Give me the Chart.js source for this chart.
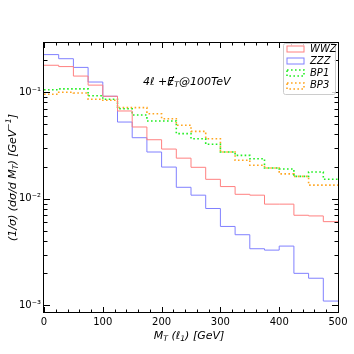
<!DOCTYPE html>
<html>
<head>
<meta charset="utf-8">
<script src="https://cdn.jsdelivr.net/npm/chart.js@4.4.0/dist/chart.umd.min.js"></script>
<style>
    html, body { margin: 0; padding: 0; background: #fff; }
    #chart { display: block; }
</style>
</head>
<body>
<canvas id="chart" width="354" height="354"></canvas>
<script>
"use strict";

// bin edges in GeV (25 GeV bins)
var binEdges = [0, 25, 50, 75, 100, 125, 150, 175, 200, 225, 250, 275, 300, 325, 350, 375, 400, 425, 450, 475, 500];

// normalised distributions, one value per bin
var wwz = [0.178, 0.173, 0.141, 0.116, 0.0912, 0.0664, 0.0470, 0.0357, 0.0292, 0.0240, 0.0197, 0.0152, 0.0130, 0.0110, 0.0108, 0.0089, 0.0089, 0.0070, 0.0069, 0.0061];
var zzz = [0.224, 0.205, 0.170, 0.124, 0.0912, 0.0523, 0.0373, 0.0274, 0.0198, 0.0128, 0.0108, 0.0081, 0.0055, 0.0046, 0.0034, 0.0033, 0.0036, 0.0020, 0.0018, 0.0011];
var bp1 = [0.105, 0.107, 0.107, 0.0923, 0.0855, 0.0697, 0.0608, 0.0535, 0.0535, 0.0407, 0.0365, 0.0324, 0.0274, 0.0255, 0.0237, 0.0194, 0.0190, 0.0162, 0.0178, 0.0152];
var bp3 = [0.0952, 0.0994, 0.0979, 0.0855, 0.0836, 0.0713, 0.0713, 0.0626, 0.0562, 0.0488, 0.0428, 0.0365, 0.0274, 0.0229, 0.0206, 0.0194, 0.0171, 0.0162, 0.0134, 0.0134];

var seriesNames = ["WWZ", "ZZZ", "BP1", "BP3"];
var xTickLabels = [0, 100, 200, 300, 400, 500];
var yTickLabels = { "-1": "10\u207B\u00B9", "-2": "10\u207B\u00B2", "-3": "10\u207B\u00B3" };

var FONT = "'DejaVu Sans', sans-serif";

// histogram as step line: left edge of every bin + closing right edge
function stepPoints(vals) {
    var pts = vals.map(function (v, i) { return { x: binEdges[i], y: v }; });
    pts.push({ x: binEdges[vals.length], y: vals[vals.length - 1] });
    return pts;
}

// draws text made of pieces: [text, "sub"|"sup"|""]
function richWidth(ctx, segs, size) {
    var w = 0;
    segs.forEach(function (s) {
        ctx.font = "italic " + (s[1] ? size * 0.7 : size) + "px " + FONT;
        w += ctx.measureText(s[0]).width;
    });
    return w;
}
function drawRich(ctx, segs, x, y, size, center) {
    var cx = center ? x - richWidth(ctx, segs, size) / 2 : x;
    ctx.textBaseline = "alphabetic";
    ctx.textAlign = "left";
    segs.forEach(function (s) {
        var fs = s[1] ? size * 0.7 : size;
        var dy = s[1] === "sub" ? size * 0.22 : (s[1] === "sup" ? -size * 0.42 : 0);
        ctx.font = "italic " + fs + "px " + FONT;
        ctx.fillText(s[0], cx, y + dy);
        if (s[2] === "slash") {
            var w = ctx.measureText(s[0]).width;
            ctx.save();
            ctx.lineWidth = 1;
            ctx.beginPath();
            ctx.moveTo(cx + w * 0.2, y + 1);
            ctx.lineTo(cx + w * 0.95, y - size * 0.82);
            ctx.stroke();
            ctx.restore();
        }
        cx += ctx.measureText(s[0]).width;
    });
}

var decorations = {
    id: "decorations",
    afterDraw: function (chart) {
        var ctx = chart.ctx;
        var a = chart.chartArea;
        var xs = chart.scales.x, ys = chart.scales.y;
        ctx.save();
        ctx.strokeStyle = "#000";
        ctx.fillStyle = "#000";
        ctx.lineWidth = 1;

        // frame
        ctx.strokeRect(Math.round(a.left) - 0.5, Math.round(a.top) + 0.5,
            Math.round(a.right - a.left) + 1, Math.round(a.bottom - a.top) - 1);

        // inward ticks, x axis (bottom + top)
        ctx.beginPath();
        xs.ticks.forEach(function (t) {
            var px = Math.round(xs.getPixelForValue(t.value)) + 0.5;
            var len = t.value % 100 === 0 ? 6 : 3.5;
            ctx.moveTo(px, a.bottom); ctx.lineTo(px, a.bottom - len);
            ctx.moveTo(px, a.top); ctx.lineTo(px, a.top + len);
        });
        // inward ticks, y axis (left + right)
        ys.ticks.forEach(function (t) {
            var e = Math.floor(Math.log10(t.value) + 1e-9);
            var sig = t.value / Math.pow(10, e);
            if (Math.abs(sig - Math.round(sig)) > 1e-6) return;
            var py = Math.round(ys.getPixelForValue(t.value)) + 0.5;
            var len = Math.round(sig) === 1 ? 6 : 3.5;
            ctx.moveTo(a.left, py); ctx.lineTo(a.left + len, py);
            ctx.moveTo(a.right, py); ctx.lineTo(a.right - len, py);
        });
        ctx.stroke();

        // annotation
        drawRich(ctx, [["4\u2113 +", ""], ["E", "", "slash"], ["T", "sub"], ["@100TeV", ""]], 143, 85, 11, false);

        // axis titles
        drawRich(ctx, [["M", ""], ["T", "sub"], [" (\u2113", ""], ["1", "sub"], [") [GeV]", ""]], 189, 339, 11, true);
        ctx.translate(16, (a.top + a.bottom) / 2);
        ctx.rotate(-Math.PI / 2);
        drawRich(ctx, [["(1/\u03C3) (d\u03C3/d M", ""], ["T", "sub"], [") [GeV", ""], ["\u22121", "sup"], ["]", ""]], 0, 0, 11, true);
        ctx.restore();

        // legend
        ctx.save();
        ctx.fillStyle = "rgba(255,255,255,0.8)";
        ctx.strokeStyle = "#cccccc";
        ctx.lineWidth = 1;
        ctx.beginPath();
        ctx.roundRect(283.5, 43.5, 52, 51, 2);
        ctx.fill();
        ctx.stroke();
        chart.data.datasets.forEach(function (ds, i) {
            var ry = 49 + i * 12.2;
            ctx.strokeStyle = ds.borderColor;
            ctx.lineWidth = ds.borderWidth;
            ctx.setLineDash(ds.borderDash || []);
            ctx.strokeRect(287, Math.round(ry) - 3, 17, 6);
            ctx.setLineDash([]);
            ctx.fillStyle = "#000";
            ctx.font = "italic 10px " + FONT;
            ctx.textBaseline = "middle";
            ctx.textAlign = "left";
            ctx.fillText(ds.label, 310, ry);
        });
        ctx.restore();
    }
};

var datasets = [
    { label: seriesNames[0], data: stepPoints(wwz), borderColor: "#ff8080", borderWidth: 1 },
    { label: seriesNames[1], data: stepPoints(zzz), borderColor: "#8080ff", borderWidth: 1 },
    { label: seriesNames[2], data: stepPoints(bp1), borderColor: "#22ee22", borderWidth: 1.6, borderDash: [1.6, 2.4] },
    { label: seriesNames[3], data: stepPoints(bp3), borderColor: "#ffa51f", borderWidth: 1.6, borderDash: [1.6, 2.4] }
].map(function (d) {
    d.stepped = "before";
    d.pointRadius = 0;
    d.fill = false;
    return d;
});

new Chart(document.getElementById("chart"), {
    type: "line",
    data: { datasets: datasets },
    options: {
        responsive: false,
        animation: false,
        devicePixelRatio: 1,
        layout: { padding: { left: 0, top: 42, right: 16, bottom: 0 } },
        plugins: { legend: { display: false }, tooltip: { enabled: false } },
        scales: {
            x: {
                type: "linear",
                min: 0,
                max: 500,
                grid: { display: false, drawTicks: false },
                border: { display: false },
                ticks: {
                    stepSize: 20,
                    autoSkip: false,
                    maxRotation: 0,
                    padding: 3,
                    color: "#000",
                    font: { family: FONT, size: 10 },
                    callback: function (v) { return xTickLabels.indexOf(v) >= 0 ? String(v) : ""; }
                },
                afterFit: function (s) { s.height = 41; }
            },
            y: {
                type: "logarithmic",
                min: 0.00085,
                max: 0.294,
                grid: { display: false, drawTicks: false },
                border: { display: false },
                ticks: {
                    autoSkip: false,
                    padding: 3,
                    color: "#000",
                    font: { family: FONT, size: 10 },
                    callback: function (v) {
                        var e = Math.log10(v);
                        if (Math.abs(e - Math.round(e)) > 1e-6) return "";
                        return yTickLabels[String(Math.round(e))] || "";
                    }
                },
                afterFit: function (s) { s.width = 44; }
            }
        }
    },
    plugins: [decorations]
});
</script>
</body>
</html>
